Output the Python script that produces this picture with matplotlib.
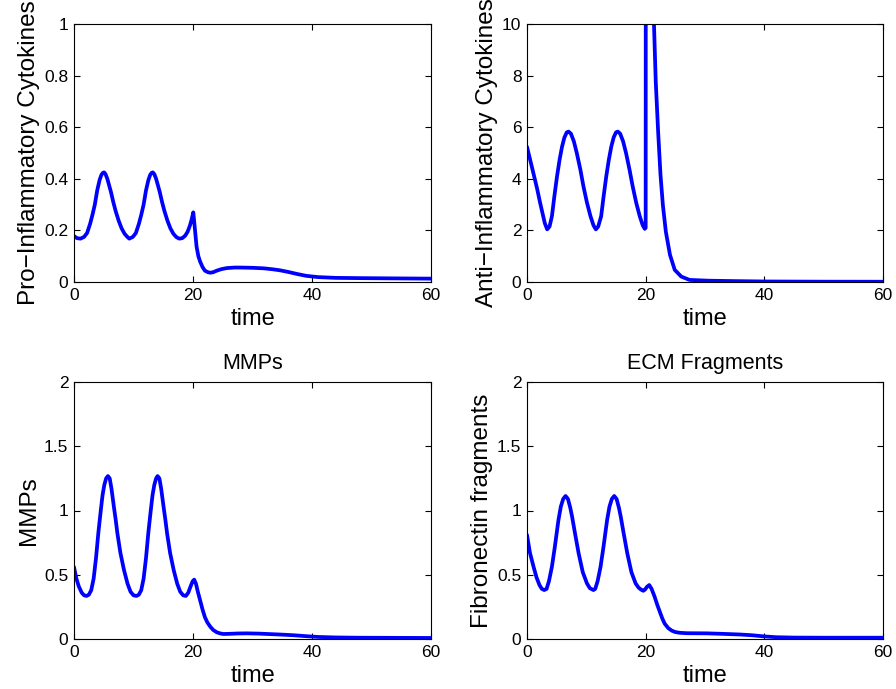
import numpy as np
import matplotlib
matplotlib.use("Agg")
import matplotlib.pyplot as plt

plt.rcParams['font.family'] = ['Liberation Sans', 'DejaVu Sans']

# --- values ---
t_pro = [0, 0.5, 1.1, 1.7, 2.2, 2.7, 3.1, 3.5, 3.9, 4.3, 4.6, 4.85, 5.05, 5.3, 5.6, 5.9, 6.2, 6.6, 7.0,
         7.5, 8.0, 8.5, 9.0, 9.3, 9.9, 10.4, 10.9, 11.3, 11.7, 12.1, 12.5, 12.8, 13.05, 13.25, 13.5, 13.8,
         14.1, 14.4, 14.8, 15.2, 15.7, 16.2, 16.7, 17.2, 17.7, 18.2, 18.7, 19.1, 19.5, 19.8, 20.05, 20.3,
         20.6, 20.9, 21.2, 21.6, 22.0, 22.5, 22.9, 23.4, 24.0, 24.8, 25.7, 27.0, 28.0, 30.0, 31.9, 33.5,
         34.7, 36.0, 37.5, 39.0, 41.0, 44.0, 48.0, 54.0, 60.0]
pro = [0.178, 0.170, 0.168, 0.175, 0.190, 0.225, 0.260, 0.300, 0.355, 0.395, 0.415, 0.423, 0.425, 0.418,
       0.400, 0.375, 0.350, 0.310, 0.275, 0.238, 0.208, 0.187, 0.174, 0.168, 0.175, 0.190, 0.225, 0.260,
       0.300, 0.355, 0.395, 0.415, 0.423, 0.425, 0.418, 0.400, 0.375, 0.350, 0.310, 0.275, 0.238, 0.208,
       0.187, 0.174, 0.168, 0.170, 0.180, 0.195, 0.220, 0.245, 0.270, 0.210, 0.137, 0.100, 0.079, 0.058,
       0.044, 0.038, 0.036, 0.038, 0.044, 0.050, 0.054, 0.056, 0.056, 0.055, 0.053, 0.049, 0.045, 0.039,
       0.031, 0.024, 0.019, 0.016, 0.015, 0.014, 0.013]

t_anti = [0, 0.6, 1.2, 1.7, 2.2, 2.7, 3.0, 3.4, 3.8, 4.2, 4.6, 5.05, 5.5, 5.9, 6.3, 6.7, 7.0, 7.4, 7.9,
          8.4, 9.0, 9.5, 10.1, 10.7, 11.2, 11.6, 12.0, 12.5, 12.9, 13.35, 13.8, 14.2, 14.6, 15.0, 15.3,
          15.7, 16.2, 16.7, 17.3, 17.8, 18.4, 19.0, 19.5, 19.85, 20.0, 20.02, 21.0, 21.4, 21.7, 22.1,
          22.5, 22.9, 23.4, 24.1, 24.9, 26.0, 27.4, 30.7, 35.0, 40.0, 50.0, 60.0]
anti = [5.24, 4.67, 4.10, 3.62, 3.08, 2.58, 2.28, 2.04, 2.15, 2.55, 3.30, 4.08, 4.75, 5.24, 5.60, 5.80,
        5.83, 5.75, 5.45, 4.99, 4.35, 3.72, 3.08, 2.55, 2.20, 2.04, 2.15, 2.55, 3.30, 4.08, 4.75, 5.24,
        5.60, 5.80, 5.83, 5.75, 5.45, 4.99, 4.33, 3.72, 3.08, 2.55, 2.20, 2.06, 2.10, 14.0, 12.5, 10.0,
        7.76, 5.83, 4.15, 2.98, 1.95, 1.05, 0.47, 0.21, 0.08, 0.05, 0.035, 0.02, 0.012, 0.01]

t_mmp = [0, 0.4, 0.8, 1.3, 1.7, 2.1, 2.5, 2.9, 3.3, 3.7, 4.1, 4.5, 4.8, 5.1, 5.4, 5.7, 6.0, 6.3, 6.7,
         7.0, 7.3, 7.8, 8.4, 9.0, 9.5, 10.0, 10.5, 10.9, 11.3, 11.7, 12.1, 12.5, 12.9, 13.2, 13.5, 13.8,
         14.05, 14.35, 14.65, 15.05, 15.35, 15.65, 16.15, 16.75, 17.35, 17.85, 18.35, 18.8, 19.2, 19.6,
         19.95, 20.2, 20.5, 20.8, 21.2, 21.6, 22.0, 22.4, 22.9, 23.4, 24.0, 24.6, 25.1, 26.0, 27.5, 29.0,
         31.0, 33.0, 35.0, 37.0, 39.0, 41.0, 44.0, 48.0, 54.0, 60.0]
mmp = [0.56, 0.47, 0.41, 0.36, 0.34, 0.335, 0.345, 0.38, 0.47, 0.63, 0.83, 1.00, 1.12, 1.20, 1.25,
       1.268, 1.25, 1.17, 1.03, 0.93, 0.82, 0.67, 0.537, 0.43, 0.368, 0.34, 0.335, 0.345, 0.38, 0.47,
       0.63, 0.83, 1.00, 1.12, 1.20, 1.25, 1.268, 1.25, 1.17, 1.03, 0.93, 0.82, 0.67, 0.537, 0.43, 0.368,
       0.34, 0.335, 0.36, 0.41, 0.45, 0.462, 0.43, 0.37, 0.30, 0.23, 0.17, 0.13, 0.096, 0.070, 0.052,
       0.043, 0.039, 0.040, 0.043, 0.044, 0.042, 0.038, 0.034, 0.029, 0.022, 0.016, 0.012, 0.010, 0.009,
       0.008]

t_fn = [0, 0.5, 1.1, 1.6, 2.1, 2.5, 2.9, 3.3, 3.7, 4.2, 4.7, 5.3, 5.7, 6.1, 6.5, 6.9, 7.3, 7.6, 8.1,
        8.7, 9.4, 10.1, 10.6, 11.2, 11.5, 11.9, 12.4, 12.9, 13.5, 13.9, 14.3, 14.7, 15.1, 15.5, 15.8,
        16.3, 16.9, 17.6, 18.3, 18.8, 19.2, 19.6, 19.9, 20.2, 20.6, 21.0, 21.5, 22.0, 22.4, 22.8, 23.2,
        23.8, 24.4, 25.0, 25.8, 27.0, 30.3, 33.0, 35.9, 38.0, 40.0, 42.0, 45.0, 50.0, 60.0]
fn = [0.81, 0.67, 0.563, 0.48, 0.42, 0.39, 0.381, 0.39, 0.45, 0.563, 0.72, 0.926, 1.03, 1.09, 1.113,
      1.09, 1.02, 0.952, 0.82, 0.667, 0.52, 0.433, 0.395, 0.381, 0.39, 0.45, 0.563, 0.72, 0.926, 1.03,
      1.09, 1.113, 1.09, 1.02, 0.952, 0.82, 0.667, 0.52, 0.433, 0.40, 0.385, 0.375, 0.385, 0.405, 0.42,
      0.39, 0.33, 0.26, 0.21, 0.16, 0.12, 0.085, 0.065, 0.054, 0.048, 0.045, 0.044, 0.040, 0.035, 0.029,
      0.020, 0.014, 0.011, 0.010, 0.010]

W, H = 896, 689
fig = plt.figure(figsize=(W / 100, H / 100), dpi=100)

def make_ax(x0, y0, x1, y1):
    return fig.add_axes([x0 / W, 1 - y1 / H, (x1 - x0) / W, (y1 - y0) / H])

panels = [
    (make_ax(74, 24, 431, 282), t_pro, pro, (0, 1), [0, 0.2, 0.4, 0.6, 0.8, 1], 'Pro\u2212Inflammatory Cytokines', None),
    (make_ax(527, 24, 883, 282), t_anti, anti, (0, 10), [0, 2, 4, 6, 8, 10], 'Anti\u2212Inflammatory Cytokines', None),
    (make_ax(74, 382, 431, 639), t_mmp, mmp, (0, 2), [0, 0.5, 1, 1.5, 2], 'MMPs', 'MMPs'),
    (make_ax(527, 382, 883, 639), t_fn, fn, (0, 2), [0, 0.5, 1, 1.5, 2], 'Fibronectin fragments', 'ECM Fragments'),
]

for ax, t, y, ylim, yt, ylab, title in panels:
    ax.plot(t, y, color=(0, 0, 1), lw=2.7, solid_joinstyle='round', solid_capstyle='round')
    ax.set_xlim(0, 60)
    ax.set_ylim(*ylim)
    ax.set_xticks([0, 20, 40, 60])
    ax.set_yticks(yt)
    ax.set_yticklabels(['%g' % v for v in yt])
    ax.tick_params(direction='in', length=4, width=0.8, top=True, right=True, labelsize=12.5, pad=4)
    ax.set_xlabel('time', fontsize=17, labelpad=4)
    ax.set_ylabel(ylab, fontsize=17.5, labelpad=3)
    if title:
        ax.set_title(title, fontsize=15.5, pad=9)
    for s in ax.spines.values():
        s.set_linewidth(0.8)

fig.savefig('out.png', dpi=100)
